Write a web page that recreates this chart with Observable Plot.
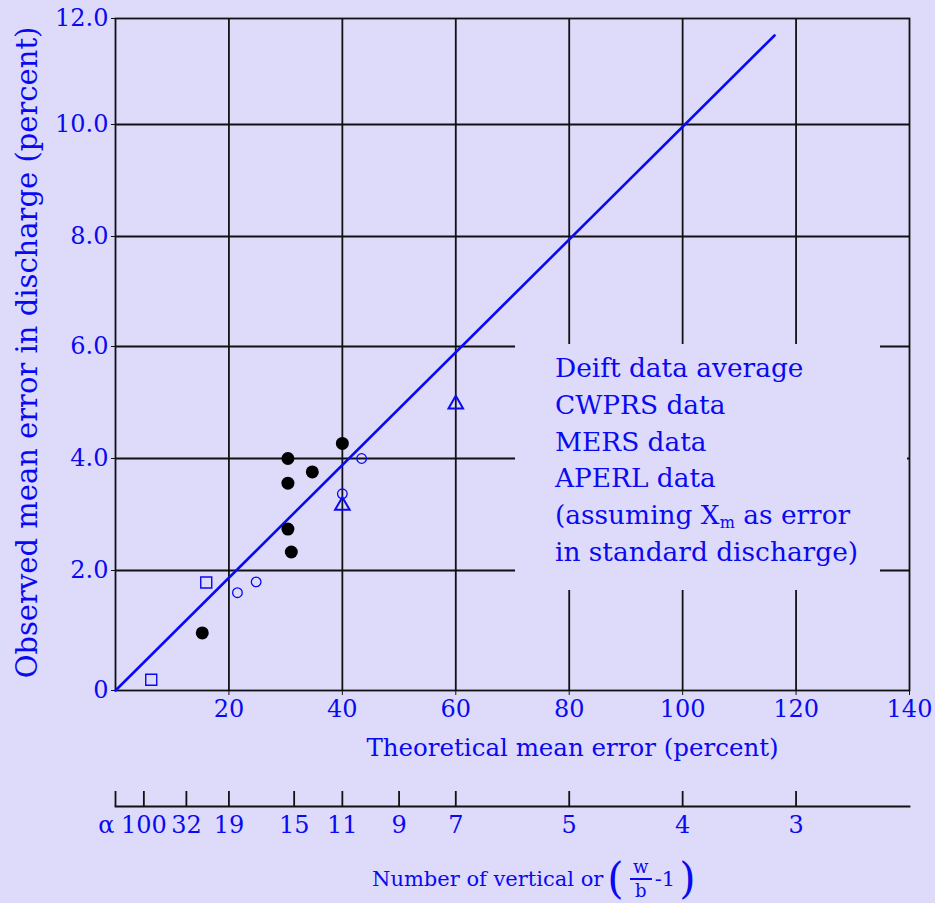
<!DOCTYPE html>
<html><head><meta charset="utf-8">
<script src="https://cdn.jsdelivr.net/npm/d3@7"></script>
<script src="https://cdn.jsdelivr.net/npm/@observablehq/plot@0.6"></script>
<style>
html,body{margin:0;padding:0;background:#dedafa;}
#wrap{position:relative;width:935px;height:903px;overflow:hidden;font-family:"DejaVu Serif",serif;background:#dedafa;}
#main{position:absolute;left:0;top:0;}
#sec{position:absolute;left:0;top:780px;}
#legend{position:absolute;left:515px;top:344px;width:365px;height:246px;background:#dedafa;color:#0a0af0;font-size:26.4px;line-height:36.8px;padding-left:40px;padding-top:6px;box-sizing:border-box;white-space:nowrap;}
#legend sub{font-size:16px;vertical-align:-4px;line-height:0;}
#mask2{position:absolute;left:879px;top:365px;width:28px;height:190px;background:#dedafa;}
#cap{position:absolute;left:372px;top:856px;display:flex;align-items:center;color:#0a0af0;font-size:21px;white-space:nowrap;}
#cap .paren{font-size:42px;line-height:46px;margin:0 3px 0 4px;}
#cap .frac{display:inline-flex;flex-direction:column;align-items:center;font-size:18px;line-height:18px;margin:0 3px;}
#cap .bar{width:22px;height:1.5px;background:#0a0af0;margin:2px 0;}
</style>
</head><body>
<div id="wrap">
  <div id="main"></div>
  <div id="sec"></div>
  <div id="legend"></div>
  <div id="mask2"></div>
  <div id="cap"></div>
</div>
<script>
// ---- data ----
const deiftX = [15.3, 30.4, 30.4, 30.4, 31.0, 34.7, 40.0];
const deiftY = [0.96, 2.74, 3.56, 4.0, 2.33, 3.76, 4.27];
const cwprsX = [21.5, 24.8, 40.0, 43.4];
const cwprsY = [1.63, 1.81, 3.37, 4.0];
const mersX = [40.0, 60.0];
const mersY = [3.16, 4.97];
const aperlX = [6.3, 16.0];
const aperlY = [0.18, 1.80];
const lineX = [0, 116.2];
const lineY = [0, 11.68];
const xTicks = [20, 40, 60, 80, 100, 120, 140];
const yTicks = [0, 2, 4, 6, 8, 10, 12];
const yTickLabels = ["0", "2.0", "4.0", "6.0", "8.0", "10.0", "12.0"];
const verticalsX = [0, 5, 12.5, 20, 31.5, 40, 50, 60, 80, 100, 120];
const verticalsLabel = ["\u03b1", "100", "32", "19", "15", "11", "9", "7", "5", "4", "3"];
const legendLines = ["Deift data average", "CWPRS data", "MERS data", "APERL data", "(assuming X<sub>m</sub> as error", "in standard discharge)"];
const xLabel = "Theoretical mean error (percent)";
const yLabel = "Observed mean error in discharge (percent)";

// ---- build ----
const bg = "#dedafa", blue = "#0a0af0", ink = "#111";
const pts = (xs, ys) => xs.map((x, i) => ({x, y: ys[i]}));
const deift = pts(deiftX, deiftY), cwprs = pts(cwprsX, cwprsY), mers = pts(mersX, mersY), aperl = pts(aperlX, aperlY);
const diag = pts(lineX, lineY);
const verticals = verticalsX.map((x, i) => ({x, label: verticalsLabel[i]}));
const fmt = new Map(yTicks.map((v, i) => [v, yTickLabels[i]]));

const common = {width: 935, marginLeft: 115, marginRight: 26, style: {background: bg, fontFamily: "'DejaVu Serif', serif", fontSize: "24px", color: blue, overflow: "visible"}};

// the printed chart's y grid is slightly uneven; a piecewise linear scale reproduces it
const main = Plot.plot({
  ...common,
  height: 780, marginTop: 18, marginBottom: 90,
  x: {domain: [0, 140]},
  y: {type: "linear", domain: yTicks, range: [690, 570, 458, 346, 236, 124, 18]},
  marks: [
    Plot.gridX(xTicks.slice(0, -1), {stroke: ink, strokeOpacity: 1, strokeWidth: 1.8}),
    Plot.gridY(yTicks.slice(1, -1), {stroke: ink, strokeOpacity: 1, strokeWidth: 1.8}),
    Plot.frame({stroke: ink, strokeWidth: 1.8}),
    Plot.axisX(xTicks, {tickSize: 5, tickPadding: 4, stroke: ink, fill: blue, label: null, fontSize: 24}),
    Plot.axisY(yTicks, {tickSize: 4, tickPadding: 3, stroke: ink, fill: blue, label: null, fontSize: 24, tickFormat: d => fmt.get(d)}),
    Plot.text([yLabel], {frameAnchor: "left", textAnchor: "middle", rotate: -90, dx: -88, dy: -2, fill: blue, fontSize: 29}),
    Plot.text([xLabel], {frameAnchor: "bottom", dx: 60, dy: 65, fill: blue, fontSize: 24.5}),
    Plot.line(diag, {x: "x", y: "y", stroke: blue, strokeWidth: 2.6}),
    Plot.dot(deift, {x: "x", y: "y", r: 6.5, fill: "black", stroke: "none"}),
    Plot.dot(cwprs, {x: "x", y: "y", r: 4.8, fill: "none", stroke: blue, strokeWidth: 1.3}),
    Plot.dot(mers, {x: "x", y: "y", symbol: "triangle", r: 5.4, fill: "none", stroke: blue, strokeWidth: 2}),
    Plot.dot(aperl, {x: "x", y: "y", symbol: "square", r: 6.2, fill: "none", stroke: blue, strokeWidth: 1.4})
  ]
});
document.getElementById("main").append(main);

const sec = Plot.plot({
  ...common,
  height: 72, marginTop: 11, marginBottom: 46,
  x: {domain: [0, 140], axis: null},
  marks: [
    Plot.tickX(verticals, {x: "x", stroke: ink, strokeWidth: 1.8}),
    Plot.frame({anchor: "bottom", stroke: ink, strokeWidth: 1.8}),
    Plot.text(verticals.filter(d => d.x > 0), {x: "x", text: "label", frameAnchor: "bottom", lineAnchor: "top", dy: 9, fill: blue, fontSize: 24}),
    Plot.text(verticals.filter(d => d.x === 0), {x: "x", text: "label", frameAnchor: "bottom", lineAnchor: "top", dy: 9, dx: -1, textAnchor: "end", fill: blue, fontSize: 24})
  ]
});
document.getElementById("sec").append(sec);

document.getElementById("legend").innerHTML = legendLines.map(l => `<div>${l}</div>`).join("");
document.getElementById("cap").innerHTML = `<span>Number of vertical or</span><span class="paren">(</span><span class="frac"><span>w</span><span class="bar"></span><span>b</span></span><span>-1</span><span class="paren">)</span>`;
</script>
</body></html>
